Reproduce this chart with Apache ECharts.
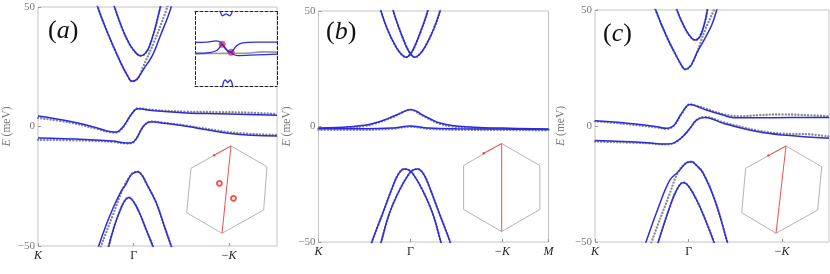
<!DOCTYPE html>
<html><head><meta charset="utf-8">
<script src="https://cdn.jsdelivr.net/npm/echarts@6/dist/echarts.min.js"></script>
<style>html,body{margin:0;padding:0;background:#fff}#c{width:830px;height:274px}</style>
</head><body><div id="c"></div>
<script>
// ---------- tick labels ----------
const yTicks = [-50, 0, 50];
const xTickPos = [0, 1, 2];
const xTickNames = ['K', 'Γ', '−K'];
const xTickPosB = [0, 1, 2, 2.5];
const xTickNamesB = ['K', 'Γ', '−K', 'M'];
const panelNames = ['a', 'b', 'c'];

// ---------- panel (a) bands: [k, E(meV)] ----------
const aCondOuter = [[0.58,57],[0.625,50],[0.73,39],[0.85,28],[0.94,21],[0.984,18.9],[1.03,19.6],[1.07,21.8],[1.10,23.7],[1.20,30],[1.29,39],[1.36,46],[1.40,51]];
const aCondOuterGray = [[0.59,56],[0.625,50],[0.73,39],[0.85,28],[0.94,21],[0.984,18.9],[1.03,19.6],[1.07,21.8],[1.10,25],[1.21,34.9],[1.33,47.4],[1.36,51]];
const aCondInner = [[0.78,53],[0.80,50],[0.887,40.4],[0.95,35],[0.99,32.5],[1.04,30.2],[1.08,29.6],[1.12,30.5],[1.16,33],[1.22,40.4],[1.28,50],[1.30,53]];
const aMidUpper = [[0,4.4],[0.33,2.2],[0.61,-0.5],[0.76,-2.2],[0.82,-2.3],[0.87,-1.0],[0.92,1.6],[0.975,5.0],[1.044,7.4],[1.20,6.7],[1.55,5.7],[1.90,5.3],[2.5,4.7]];
const aMidUpperGray = [[0,3.6],[0.33,1.7],[0.61,-0.9],[0.76,-2.4],[0.82,-2.5],[0.87,-1.2],[0.92,1.4],[0.975,5],[1.044,7.6],[1.2,6.9],[1.55,6.2],[1.9,6.0],[2.2,5.8],[2.5,5.2]];
const aMidLower = [[0,-4.8],[0.50,-5.4],[0.78,-6.1],[0.93,-6.9],[0.98,-6.8],[1.03,-5.0],[1.08,-1.25],[1.13,1.2],[1.19,2.0],[1.30,1.5],[1.55,0.1],[2.01,-2.9],[2.5,-4.0]];
const aMidLowerGray = [[0,-5.6],[0.5,-5.9],[0.78,-6.4],[0.93,-7.1],[0.98,-7.0],[1.03,-5.0],[1.08,-1.3],[1.13,1.2],[1.19,2.1],[1.30,1.6],[1.55,0.4],[2.01,-2.4],[2.5,-3.6]];
const aValOuter = [[0.60,-55],[0.635,-50],[0.71,-41.5],[0.78,-34.6],[0.87,-27],[0.92,-24.2],[0.96,-21],[0.99,-19.6],[1.044,-18.9],[1.09,-20.5],[1.13,-23.5],[1.236,-31.8],[1.32,-41.5],[1.393,-50],[1.42,-53]];
const aValOuterGray = [[0.64,-53],[0.66,-50],[0.78,-37.4],[0.90,-24.9],[0.96,-21],[0.99,-19.6],[1.044,-18.9],[1.09,-20.5],[1.13,-23.5],[1.236,-31.8],[1.32,-41.5],[1.393,-50],[1.42,-53]];
const aValInner = [[0.72,-54],[0.74,-50],[0.80,-41.5],[0.85,-36],[0.90,-31.5],[0.95,-29.7],[1.00,-31.5],[1.06,-36],[1.13,-43],[1.20,-50],[1.22,-53]];

// ---------- panel (b) ----------
const bCondL = [[0.66,54],[0.679,50],[0.752,41.8],[0.842,34.5],[0.90,31.3],[0.951,30],[1.005,31.7],[1.06,36],[1.13,43.2],[1.187,50],[1.20,53]];
const bCondR = [[0.80,53],[0.813,50],[0.87,43.2],[0.94,36],[0.995,31.7],[1.049,30],[1.10,31.3],[1.158,34.5],[1.248,41.8],[1.321,50],[1.34,54]];
const bMidUpper = [[0,-0.6],[0.2,-0.4],[0.335,-0.1],[0.5,0.5],[0.6,1.4],[0.7,2.6],[0.8,4.2],[0.9,5.9],[1.0,7.4],[1.07,6.5],[1.13,5.0],[1.22,3.2],[1.31,1.6],[1.45,0.4],[1.6,-0.1],[1.8,-0.5],[2.0,-0.7],[2.5,-1.1]];
const bMidUpperGray = [[0,-0.9],[0.2,-0.8],[0.335,-0.5],[0.5,0.2],[0.6,1.1],[0.8,3.9],[1.0,7.2],[1.13,4.7],[1.31,1.3],[1.45,0.0],[1.6,-0.5],[1.8,-0.9],[2.5,-1.4]];
const bMidLower = [[0,-1.0],[0.5,-1.0],[0.8,-0.7],[0.9,-0.2],[1.0,0.2],[1.1,-0.2],[1.2,-0.7],[1.5,-1.0],[2.0,-1.1],[2.5,-1.3]];
const bMidLowerGray = [[0,-1.4],[0.5,-1.4],[0.8,-1.0],[1.0,-0.1],[1.2,-1.0],[1.5,-1.4],[2.5,-1.6]];
const bValL = [[0.56,-53],[0.58,-50],[0.698,-37.6],[0.806,-26.1],[0.87,-20.5],[0.933,-18.4],[0.98,-18.8],[1.024,-20.3],[1.13,-27.5],[1.24,-37.6],[1.33,-50],[1.35,-53]];
const bValR = [[0.661,-53],[0.681,-50],[0.771,-37.6],[0.881,-27.5],[0.987,-20.3],[1.031,-18.8],[1.078,-18.4],[1.141,-20.5],[1.205,-26.1],[1.313,-37.6],[1.431,-50],[1.451,-53]];

// ---------- panel (c) ----------
const cCondOuter = [[0.63,53],[0.648,50],[0.766,38.5],[0.873,29.9],[0.944,24.9],[0.969,24.4],[1.015,25.6],[1.05,28],[1.086,31.3],[1.175,37.8],[1.247,43.5],[1.30,50],[1.32,53]];
const cCondOuterGray = [[0.63,53],[0.648,50],[0.766,38.5],[0.873,29.9],[0.944,24.9],[0.969,24.4],[1.015,25.6],[1.05,28],[1.086,31.3],[1.175,41.4],[1.27,50],[1.28,52]];
const cCondInner = [[0.86,53],[0.875,50],[0.962,42.1],[1.033,37.8],[1.072,37.1],[1.12,38.5],[1.175,45],[1.20,50],[1.21,53]];
const cMidUpper = [[0,2.3],[0.30,1.4],[0.66,-0.3],[0.76,-1.0],[0.81,-0.6],[0.855,0.8],[0.926,5.5],[1.015,9.3],[1.10,8.3],[1.19,6.9],[1.37,4.7],[1.48,3.6],[1.905,3.6],[2.5,3.7]];
const cMidUpperGray = [[0,2.0],[0.30,1.0],[0.66,-0.6],[0.76,-1.2],[0.81,-0.8],[0.855,0.7],[0.926,5.3],[1.015,9.3],[1.10,8.6],[1.19,7.4],[1.37,5.1],[1.55,4.2],[1.75,4.7],[2.0,5.0],[2.2,4.8],[2.5,4.2]];
const cMidLower = [[0,-6.3],[0.55,-7.2],[0.75,-7.8],[0.82,-7.6],[0.873,-6.6],[0.944,-4.3],[1.015,-1.0],[1.086,2.6],[1.175,3.7],[1.37,1.2],[1.73,-2.4],[2.01,-3.9],[2.5,-5.3]];
const cMidLowerGray = [[0,-6.7],[0.55,-7.4],[0.75,-7.9],[0.82,-7.7],[0.873,-6.7],[0.944,-4.3],[1.015,-1.0],[1.086,2.6],[1.175,3.9],[1.37,1.6],[1.73,-1.9],[2.01,-3.3],[2.3,-3.6],[2.5,-4.6]];
const cValOuter = [[0.53,-53],[0.545,-50],[0.694,-33.3],[0.80,-23.3],[0.89,-19.7],[0.98,-15.8],[1.033,-15.4],[1.08,-16.8],[1.157,-20.4],[1.28,-31.9],[1.413,-50],[1.43,-53]];
const cValOuterGray = [[0.59,-53],[0.605,-50],[0.80,-29],[0.89,-19.7],[0.98,-15.8],[1.033,-15.4],[1.08,-16.8],[1.157,-20.4],[1.28,-31.9],[1.413,-50],[1.43,-53]];
const cValInner = [[0.66,-53],[0.676,-50],[0.80,-34.8],[0.88,-27],[0.944,-24.4],[1.00,-26],[1.086,-31.9],[1.18,-40.5],[1.27,-50],[1.29,-53]];

// ---------- inset of (a): zoomed crossing (normalised box coords, y down) ----------
const insetUpper = [[0,0.413],[0.135,0.409],[0.257,0.391],[0.302,0.404],[0.331,0.436],[0.371,0.498],[0.408,0.538],[0.441,0.542],[0.469,0.511],[0.510,0.453],[0.584,0.418],[0.747,0.409],[1,0.409]];
const insetLower = [[0,0.556],[0.176,0.547],[0.265,0.52],[0.306,0.471],[0.331,0.436],[0.363,0.476],[0.40,0.524],[0.441,0.542],[0.469,0.573],[0.522,0.587],[0.747,0.578],[1,0.569]];
const insetGray = [[0,0.565],[0.15,0.56],[0.62,0.556],[0.83,0.538],[1,0.542]];
const insetTop = [[0.300,-0.02],[0.322,0.04],[0.335,0.058],[0.355,0.045],[0.38,0.031],[0.402,0.045],[0.42,0.058],[0.44,0.04],[0.458,-0.02]];
const insetBottom = [[0.335,1.02],[0.345,0.95],[0.367,0.911],[0.385,0.93],[0.400,0.947],[0.415,0.93],[0.429,0.911],[0.45,0.95],[0.461,1.02]];
const insetWeyl = [[0.331,0.436],[0.441,0.542]];

// ---------- Brillouin-zone insets (unit hexagon coords, y up) ----------
const hexA = [[0.093,0.989],[0.911,0.518],[0.836,-0.466],[-0.111,-0.995],[-0.914,-0.527],[-0.816,0.482],[0.093,0.989]];
const cutA = [[0.093,0.989],[-0.111,-0.995]];
const pathA = [[0.093,0.989],[-0.29,0.78]];
const weylA = [[-0.17,0.14],[0.15,-0.20]];
const hexB = [[0,1],[0.866,0.5],[0.866,-0.5],[0,-1],[-0.866,-0.5],[-0.866,0.5],[0,1]];
const cutB = [[0,1],[0,-1]];
const pathB = [[0,1],[-0.41,0.78]];
const hexC = [[0.102,0.989],[0.914,0.518],[0.823,-0.466],[-0.125,-0.995],[-0.905,-0.527],[-0.814,0.482],[0.102,0.989]];
const cutC = [[0.102,0.989],[-0.125,-0.995]];
const pathC = [[0.102,0.989],[-0.30,0.77]];

// ---------- styles ----------
const BLUE = '#2b2be3';
const GRAY = '#8a8a8a';
const SERIF = 'Liberation Serif';

const mainGrids = [
  {left: 38, top: 7, width: 239, height: 239},
  {left: 318.5, top: 11, width: 230, height: 231},
  {left: 595, top: 10, width: 234, height: 232}
];
const nameGaps = [25, 26, 28];
const labelTops = [13, 14, 16];
const labelLefts = [43, 321, 598];

const grid = [];
const xAxis = [];
const yAxis = [];
const series = [];
const title = [];

function xFmt(pos, names) {
  return function (v) {
    let i = -1;
    for (let j = 0; j < pos.length; j++) if (Math.abs(pos[j] - v) < 1e-6) i = j;
    if (i < 0) return '';
    const n = names[i];
    if (n === 'Γ') return '{u|Γ}';
    if (n.charAt(0) === '−') return '{u|−}{i|' + n.slice(1) + '}';
    return '{i|' + n + '}';
  };
}

mainGrids.forEach((g, p) => {
  grid.push(Object.assign({show: true, borderColor: '#c4c4c4', borderWidth: 1, backgroundColor: '#fff'}, g));
  const pos = p === 1 ? xTickPosB : xTickPos;
  const names = p === 1 ? xTickNamesB : xTickNames;
  xAxis.push({
    type: 'value', gridIndex: p, min: 0, max: 2.5, position: 'bottom',
    axisLine: {show: false, onZero: false}, splitLine: {show: false},
    axisTick: {show: true, inside: true, length: 3, customValues: pos, lineStyle: {color: '#999'}},
    axisLabel: {
      customValues: pos, formatter: xFmt(pos, names), margin: 4,
      rich: {
        i: {fontFamily: SERIF, fontStyle: 'italic', fontSize: 12, color: '#222'},
        u: {fontFamily: SERIF, fontSize: 12, color: '#222'}
      }
    }
  });
  yAxis.push({
    type: 'value', gridIndex: p, min: -50, max: 50, interval: 50, position: 'left',
    axisLine: {show: false, onZero: false}, splitLine: {show: false},
    axisTick: {show: true, inside: true, length: 3, lineStyle: {color: '#999'}},
    axisLabel: {
      margin: 3, fontFamily: SERIF, fontSize: 11, color: '#777',
      formatter: v => (v < 0 ? '−' + (-v) : '' + v)
    },
    name: '{i|E}{u| (meV)}', nameLocation: 'middle', nameGap: nameGaps[p], nameRotate: 90,
    nameTextStyle: {
      rich: {
        i: {fontFamily: SERIF, fontStyle: 'italic', fontSize: 12, color: '#777'},
        u: {fontFamily: SERIF, fontSize: 11.5, color: '#777'}
      },
      fontFamily: SERIF, fontSize: 11.5, color: '#777'
    }
  });
  title.push({
    text: '{p|(}{i|' + panelNames[p] + '}{p|)}', left: labelLefts[p], top: labelTops[p],
    textStyle: {
      fontWeight: 'normal',
      rich: {
        p: {fontFamily: SERIF, fontSize: 26, fontWeight: 'normal', color: '#111'},
        i: {fontFamily: SERIF, fontStyle: 'italic', fontWeight: 'normal', fontSize: 26, color: '#111'}
      }
    }
  });
});

function line(data, xi, yi, color, width, z, dotted) {
  const s = {
    type: 'line', xAxisIndex: xi, yAxisIndex: yi, data: data,
    showSymbol: false, symbol: 'none', smooth: 0.4,
    lineStyle: {color: color, width: width}, z: z, silent: true, animation: false
  };
  if (dotted) {
    s.lineStyle.type = [0, 3.2];
    s.lineStyle.cap = 'round';
  }
  return s;
}
function grayBand(d, p) { return line(d, p, p, GRAY, 2.4, 2, true); }
function blueBand(d, p) { return line(d, p, p, BLUE, 1.5, 3, false); }

// panel a
[aCondOuterGray, aCondInner, aMidUpperGray, aMidLowerGray, aValOuterGray, aValInner].forEach(d => series.push(grayBand(d, 0)));
[aCondOuter, aCondInner, aMidUpper, aMidLower, aValOuter, aValInner].forEach(d => series.push(blueBand(d, 0)));
// panel b
[bCondL, bCondR, bMidUpperGray, bMidLowerGray, bValL, bValR].forEach(d => series.push(grayBand(d, 1)));
[bCondL, bCondR, bMidUpper, bMidLower, bValL, bValR].forEach(d => series.push(blueBand(d, 1)));
// panel c
[cCondOuterGray, cCondInner, cMidUpperGray, cMidLowerGray, cValOuterGray, cValInner].forEach(d => series.push(grayBand(d, 2)));
[cCondOuter, cCondInner, cMidUpper, cMidLower, cValOuter, cValInner].forEach(d => series.push(blueBand(d, 2)));

// ---------- inset grid of (a) (dashed box) ----------
grid.push({left: 195, top: 11.5, width: 82, height: 75, show: false}); // grid 3
const dashed = {show: true, onZero: false, lineStyle: {color: '#222', width: 1, type: [3, 2]}};
const hid = {axisTick: {show: false}, axisLabel: {show: false}, splitLine: {show: false}};
xAxis.push(Object.assign({type: 'value', gridIndex: 3, min: 0, max: 1, position: 'bottom', axisLine: dashed}, hid)); // x3
xAxis.push(Object.assign({type: 'value', gridIndex: 3, min: 0, max: 1, position: 'top', axisLine: dashed}, hid)); // x4
yAxis.push(Object.assign({type: 'value', gridIndex: 3, min: 0, max: 1, inverse: true, position: 'left', axisLine: dashed}, hid)); // y3
yAxis.push(Object.assign({type: 'value', gridIndex: 3, min: 0, max: 1, inverse: true, position: 'right', axisLine: dashed}, hid)); // y4

series.push(line(insetGray, 3, 3, '#999', 1.6, 4, false));
series.push({type: 'scatter', xAxisIndex: 3, yAxisIndex: 3, data: insetWeyl, symbol: 'circle', symbolSize: 7,
  itemStyle: {color: '#ff2a2a'}, z: 4, silent: true, animation: false});
[insetUpper, insetLower, insetTop, insetBottom].forEach(d => {
  const s = line(d, 3, 3, BLUE, 1.3, 5, false);
  s.smooth = 0.3;
  series.push(s);
});

// ---------- hexagon insets ----------
const hexCenters = [[226.9, 189.5], [501.7, 187.5], [781.5, 189.5]];
const hexes = [hexA, hexB, hexC];
const cuts = [cutA, cutB, cutC];
const paths = [pathA, pathB, pathC];
hexCenters.forEach((c, i) => {
  const gi = 4 + i;
  const half = 48.4;
  grid.push({left: c[0] - half, top: c[1] - half, width: 2 * half, height: 2 * half, show: false});
  const ax = {type: 'value', gridIndex: gi, min: -1.1, max: 1.1, show: false, splitLine: {show: false}};
  xAxis.push(Object.assign({}, ax));
  yAxis.push(Object.assign({}, ax));
  const xi = 5 + i, yi = 5 + i;
  const mk = (d, color, w) => ({type: 'line', xAxisIndex: xi, yAxisIndex: yi, data: d, showSymbol: false, symbol: 'none',
    lineStyle: {color: color, width: w}, z: 6, silent: true, animation: false});
  series.push(mk(hexes[i], '#b5b5b5', 1));
  series.push(mk(cuts[i], '#f25050', 1));
  series.push(mk(paths[i], '#f25050', 1));
  series.push({type: 'scatter', xAxisIndex: xi, yAxisIndex: yi, data: [paths[i][1]], symbol: 'circle', symbolSize: 2.5,
    itemStyle: {color: '#f03030'}, z: 7, silent: true, animation: false});
  if (i === 0) {
    series.push({type: 'scatter', xAxisIndex: xi, yAxisIndex: yi, data: weylA, symbol: 'circle', symbolSize: 5,
      itemStyle: {color: '#fff', borderColor: '#ff1a1a', borderWidth: 1.8}, z: 7, silent: true, animation: false});
  }
});

const chart = echarts.init(document.getElementById('c'), null, {renderer: 'canvas'});
chart.setOption({animation: false, backgroundColor: '#fff', title, grid, xAxis, yAxis, series});
</script></body></html>
